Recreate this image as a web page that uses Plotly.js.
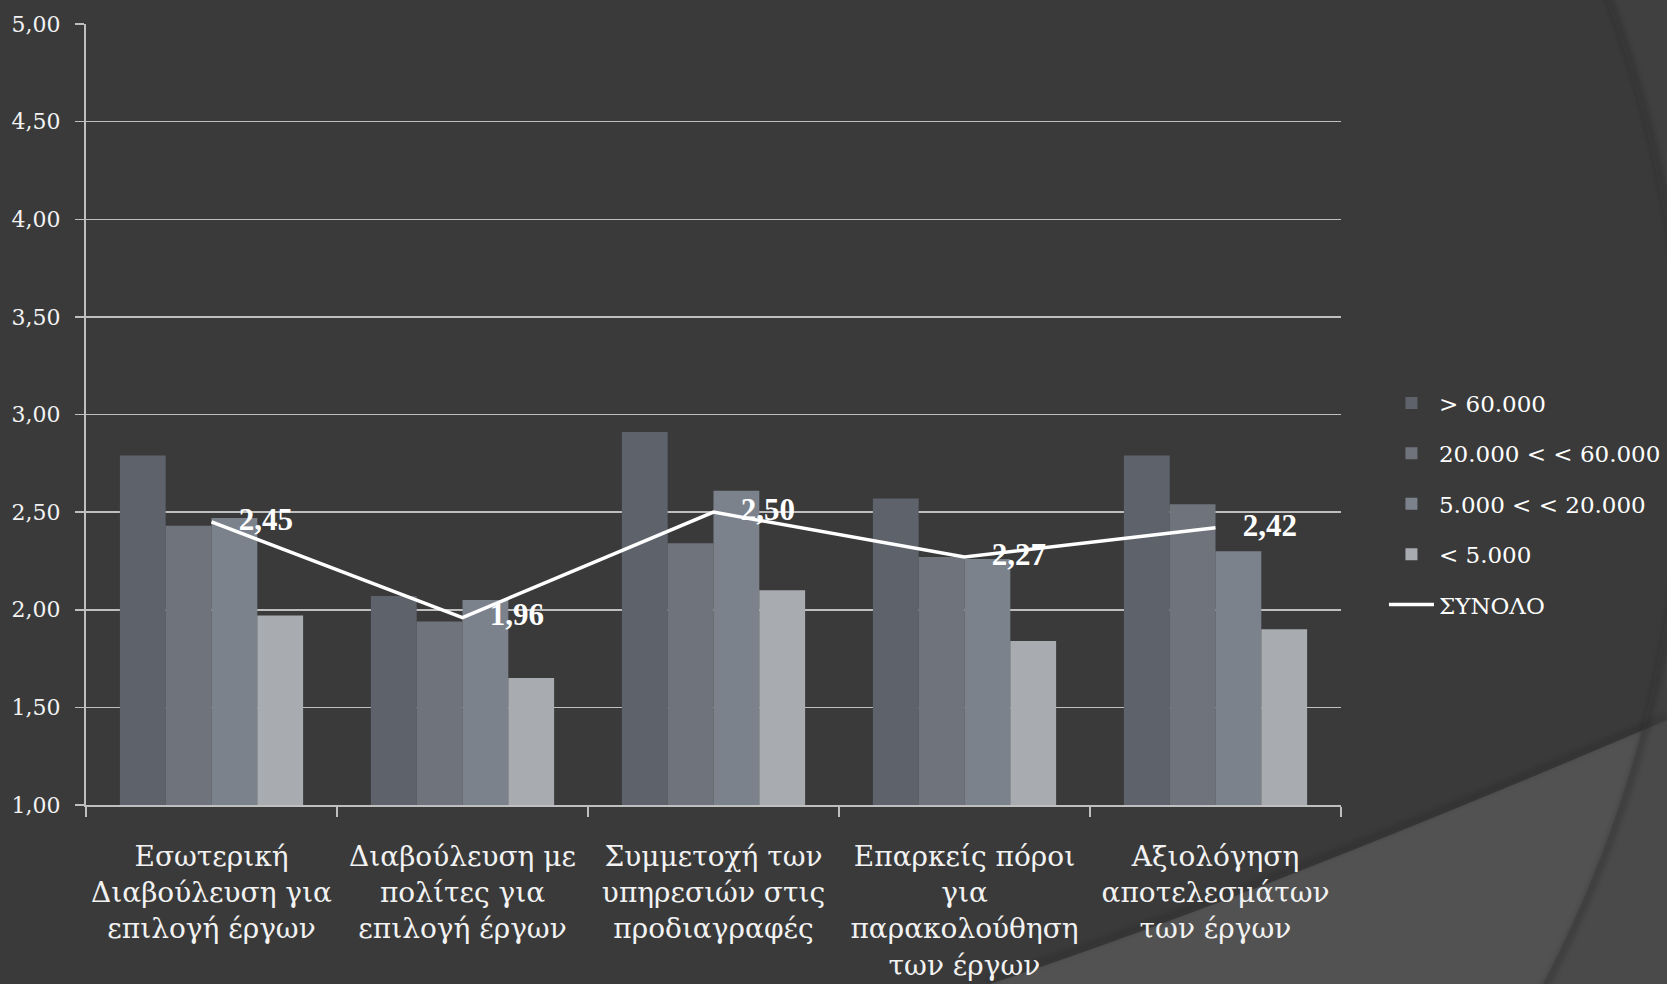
<!DOCTYPE html>
<html>
<head>
<meta charset="utf-8">
<script src="https://cdn.plot.ly/plotly-3.0.1.min.js"></script>
<style>
  html, body { margin: 0; padding: 0; background: #3a3a3a; overflow: hidden; }
  #bg { position: absolute; left: 0; top: 0; }
  #chart { position: absolute; left: 0; top: 0; width: 1667px; height: 984px; }
</style>
</head>
<body>
<svg id="bg" width="1667" height="984" viewBox="0 0 1667 984">
  <defs>
    <clipPath id="circ"><circle cx="472" cy="421" r="1210"/></clipPath>
    <filter id="soft" x="-5%" y="-5%" width="110%" height="110%"><feGaussianBlur stdDeviation="3"/></filter>
  </defs>
  <rect x="0" y="0" width="1667" height="984" fill="#404040"/>
  <circle cx="472" cy="421" r="1210" fill="#3a3a3a"/>
  <path d="M 990 984 Q 1251 898 1667 720 L 1667 984 Z" fill="#4a4a4a"/>
  <path d="M 990 984 Q 1251 898 1667 720 L 1667 984 Z" fill="#525252" clip-path="url(#circ)"/>
  <path d="M 986 981 Q 1249 894 1667 716" fill="none" stroke="rgba(0,0,0,0.18)" stroke-width="5" filter="url(#soft)"/>
  <circle cx="472" cy="421" r="1213" fill="none" stroke="rgba(0,0,0,0.22)" stroke-width="6" filter="url(#soft)"/>
</svg>
<div id="chart"></div>
<script>
// ---- data ----
var categories = [
  "Εσωτερική<br>Διαβούλευση για<br>επιλογή έργων",
  "Διαβούλευση με<br>πολίτες για<br>επιλογή έργων",
  "Συμμετοχή των<br>υπηρεσιών στις<br>προδιαγραφές",
  "Επαρκείς πόροι<br>για<br>παρακολούθηση<br>των έργων",
  "Αξιολόγηση<br>αποτελεσμάτων<br>των έργων"
];
var seriesNames = ["> 60.000", "20.000 < < 60.000", "5.000 < < 20.000", "< 5.000"];
var over60k     = [2.79, 2.07, 2.91, 2.57, 2.79];
var from20to60k = [2.43, 1.94, 2.34, 2.27, 2.54];
var from5to20k  = [2.47, 2.05, 2.61, 2.26, 2.30];
var under5k     = [1.97, 1.65, 2.10, 1.84, 1.90];
var totalName   = "ΣΥΝΟΛΟ";
var total       = [2.45, 1.96, 2.50, 2.27, 2.42];
var yTickVals   = [1, 1.5, 2, 2.5, 3, 3.5, 4, 4.5, 5];

// ---- styling ----
var barColors = ["#5d626b", "#6f737c", "#7c828c", "#a8abb0"];
var FONT = "DejaVu Serif, serif";
var LABEL_FONT = "Liberation Serif, Times New Roman, serif";
var seriesValues = [over60k, from20to60k, from5to20k, under5k];

var traces = seriesValues.map(function (vals, i) {
  return {
    type: "bar",
    name: seriesNames[i],
    x: categories,
    y: vals,
    marker: { color: barColors[i], line: { width: 0 } },
    legendgroup: "g" + i,
    hoverinfo: "x+y"
  };
});

traces.push({
  type: "scatter",
  mode: "lines+markers+text",
  name: totalName,
  x: categories,
  y: total,
  line: { color: "#ffffff", width: 3.5 },
  marker: { size: 42, color: "rgba(0,0,0,0)" },
  texttemplate: "%{y:.2f}",
  textposition: "middle right",
  textfont: { family: LABEL_FONT, size: 31, color: "#ffffff", weight: "bold" },
  legendgroup: "g4",
  cliponaxis: false
});

var layout = {
  width: 1667,
  height: 984,
  paper_bgcolor: "rgba(0,0,0,0)",
  plot_bgcolor: "rgba(0,0,0,0)",
  separators: ",.",
  margin: { l: 86, r: 326, t: 24, b: 179, pad: 0, autoexpand: false },
  barmode: "group",
  bargap: 0.27,
  bargroupgap: 0,
  font: { family: FONT, color: "#f2f2f2", size: 24 },
  xaxis: {
    type: "category",
    tickson: "boundaries",
    ticks: "outside",
    ticklen: 10,
    tickwidth: 1.5,
    tickcolor: "#bfbfbf",
    showline: true,
    linecolor: "#bfbfbf",
    linewidth: 2,
    showgrid: false,
    tickangle: 0,
    automargin: false,
    tickfont: { family: FONT, size: 28, color: "#f2f2f2" },
    ticklabelstandoff: 25,
    fixedrange: true
  },
  yaxis: {
    range: [1, 5],
    tickvals: yTickVals,
    tickformat: ".2f",
    ticks: "outside",
    ticklen: 9,
    tickwidth: 1.5,
    tickcolor: "#bfbfbf",
    showline: true,
    linecolor: "#bfbfbf",
    linewidth: 2,
    showgrid: true,
    gridcolor: "#bfbfbf",
    gridwidth: 1.5,
    zeroline: false,
    automargin: false,
    tickfont: { family: FONT, size: 22, color: "#f2f2f2" },
    ticklabelstandoff: 10,
    fixedrange: true
  },
  showlegend: true,
  legend: {
    xref: "container",
    yref: "container",
    x: 0.8302,
    xanchor: "left",
    y: 0.4878,
    yanchor: "middle",
    traceorder: "grouped",
    tracegroupgap: 17.5,
    itemwidth: 45,
    bgcolor: "rgba(0,0,0,0)",
    font: { family: FONT, size: 23, color: "#ffffff" }
  }
};

Plotly.newPlot("chart", traces, layout, { staticPlot: true, displayModeBar: false });
</script>
</body>
</html>
